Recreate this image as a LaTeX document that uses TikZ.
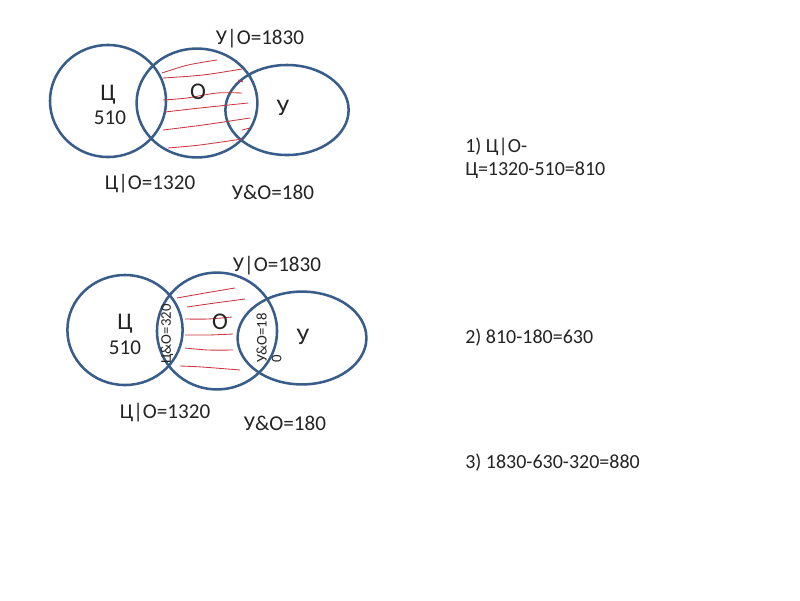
\documentclass[tikz,border=0pt]{standalone}
\usepackage{fontspec}
\setmainfont{Carlito}
\usetikzlibrary{shapes.geometric, positioning}
\definecolor{cRing}{RGB}{56,93,138}
\definecolor{cHatch}{RGB}{200,55,65}
\definecolor{cText}{RGB}{35,35,35}
\tikzset{
	ring/.style   ={ellipse, draw=cRing, line width=1.8pt, inner sep=0pt},
	setname/.style={text=cText, font=\fontsize{17}{19}\selectfont, inner sep=0pt},
	lbl/.style    ={text=cText, font=\fontsize{15}{17}\selectfont, inner sep=0pt},
	sidelbl/.style={text=cText, font=\fontsize{10.5}{10.5}\selectfont, inner sep=0pt, rotate=90, align=left},
	calcline/.style={text=cText, font=\fontsize{14.2}{16.4}\selectfont, inner sep=0pt, anchor=west, align=left},
	hatch/.style  ={draw=cHatch, line width=0.6pt},
}

\begin{document}
\begin{tikzpicture}[x=0.025cm, y=-0.025cm]
	\useasboundingbox (0,0) rectangle (800,600);
	% upper diagram
	\node[ring, minimum width=2.9cm, minimum height=2.8cm] (c1) at (108,101) {};
	\node[ring, minimum width=3.02cm, minimum height=2.72cm] (o1) at (197,103) {};
	\node[ring, minimum width=3.08cm, minimum height=2.25cm] (u1) at (287,110) {};
	\draw[hatch] plot[smooth] coordinates {(162,73) (188,65) (217,60)};
	\draw[hatch] plot[smooth] coordinates {(163,78) (203,75) (242,69)};
	\draw[hatch] (238,80) -- (243,82);
	\draw[hatch] plot[smooth] coordinates {(163,100) (187,98) (217,93) (242,93)};
	\draw[hatch] plot[smooth] coordinates {(165,112) (200,108) (248,103)};
	\draw[hatch] plot[smooth] coordinates {(163,130) (203,125) (250,118)};
	\draw[hatch] (242,130) -- (250,128);
	\draw[hatch] plot[smooth] coordinates {(168,148) (200,145) (242,139)};
	\node[setname] (c1n) at (108,95) {Ц};
	\node[lbl] (c1v) at (110,118) {510};
	\node[setname] (o1n) at (198,92) {О};
	\node[setname] (u1n) at (283,108) {У};
	\node[lbl] (uo1) at (260,39) {У|О=1830};
	\node[lbl] (co1) at (150,184) {Ц|О=1320};
	\node[lbl] (ua1) at (273,192) {У\&О=180};
	% lower diagram
	\node[ring, minimum width=2.88cm, minimum height=2.75cm] (c2) at (125,330) {};
	\node[ring, minimum width=3.0cm, minimum height=2.92cm] (o2) at (217,331) {};
	\node[ring, minimum width=3.22cm, minimum height=2.32cm] (u2) at (302,338) {};
	\draw[hatch] plot[smooth] coordinates {(177,298) (205,293) (235,288)};
	\draw[hatch] plot[smooth] coordinates {(187,307) (215,303) (245,299)};
	\draw[hatch] plot[smooth] coordinates {(185,319) (208,319) (232,317)};
	\draw[hatch] plot[smooth] coordinates {(185,335) (208,335) (233,334)};
	\draw[hatch] plot[smooth] coordinates {(185,348) (208,350) (233,350)};
	\draw[hatch] plot[smooth] coordinates {(180,366) (202,367) (240,370)};
	\node[setname] (c2n) at (125,324) {Ц};
	\node[lbl] (c2v) at (125,348) {510};
	\node[setname] (o2n) at (220,322) {О};
	\node[setname] (u2n) at (303,337) {У};
	\node[sidelbl] (co2) at (167,334) {Ц\&О=320};
	\node[sidelbl] (ua2) at (269,338) {У\&О=18\\0};
	\node[lbl] (uo2) at (277,266) {У|О=1830};
	\node[lbl] (cu2) at (165,413) {Ц|О=1320};
	\node[lbl] (ua3) at (285,423) {У\&О=180};
	% solution steps
	\node[calcline] (s1) at (465,158) {1) Ц|О-\\Ц=1320-510=810};
	\node[calcline] (s2) at (465,338) {2) 810-180=630};
	\node[calcline] (s3) at (465,463) {3) 1830-630-320=880};
\end{tikzpicture}
\end{document}
